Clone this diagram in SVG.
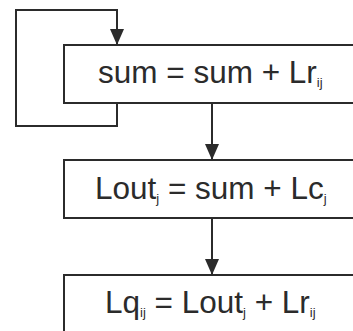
<svg xmlns="http://www.w3.org/2000/svg" width="353" height="331" viewBox="0 0 353 331">
<defs>
<marker id="arr" markerWidth="16" markerHeight="14" refX="16" refY="7" orient="auto" markerUnits="userSpaceOnUse" viewBox="0 0 16 14">
<path d="M0,0 L16,7 L0,14 Z" fill="#2b2b2b"/>
</marker>
</defs>
<style>
.box{fill:#fff;stroke:#2b2b2b;stroke-width:2}
.ln{fill:none;stroke:#2b2b2b;stroke-width:2}
.t{font-family:"Liberation Sans",Arial,sans-serif;font-size:31.5px;fill:#2b2b2b}
.s{font-size:13px;fill:#2b2b2b}
</style>
<rect width="353" height="331" fill="#fff"/>
<g id="node1">
<rect class="box" x="64" y="45" width="320" height="58"/>
<text class="t" x="98" y="83">sum = sum + Lr<tspan class="s" dy="4">ij</tspan></text>
</g>
<g id="node2">
<rect class="box" x="64" y="160" width="320" height="58"/>
<text class="t" x="95" y="199">Lout<tspan class="s" dy="4">j</tspan><tspan dy="-4"> = sum + Lc</tspan><tspan class="s" dy="4">j</tspan></text>
</g>
<g id="node3">
<rect class="box" x="64" y="275" width="320" height="70"/>
<text class="t" x="105" y="313">Lq<tspan class="s" dy="4">ij</tspan><tspan dy="-4"> = Lout</tspan><tspan class="s" dy="4">j</tspan><tspan dy="-4"> + Lr</tspan><tspan class="s" dy="4">ij</tspan></text>
</g>
<g id="connectors">
<path class="ln" d="M117,103 V126 H16 V10 H117 V45" marker-end="url(#arr)"/>
<path class="ln" d="M212,103 V160" marker-end="url(#arr)"/>
<path class="ln" d="M212,218 V275" marker-end="url(#arr)"/>
</g>
</svg>
